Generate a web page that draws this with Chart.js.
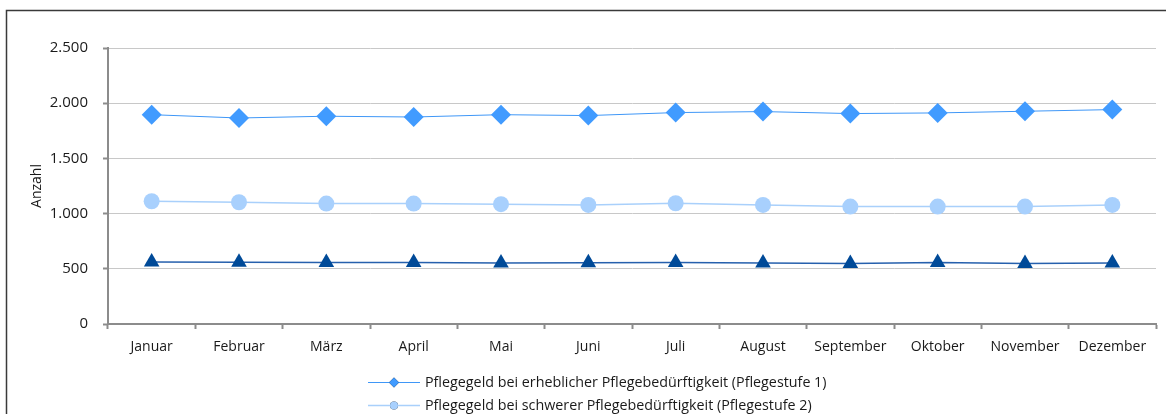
<!DOCTYPE html>
<html>
<head>
<meta charset="utf-8">
<script src="https://cdn.jsdelivr.net/npm/chart.js@4/dist/chart.umd.min.js"></script>
<style>
html,body{margin:0;padding:0;background:#fff;overflow:hidden;}
#wrap{position:relative;width:1166px;height:414px;}
</style>
</head>
<body>
<div id="wrap"><canvas id="c" width="1166" height="414"></canvas></div>
<script>
const months = ["Januar","Februar","März","April","Mai","Juni","Juli","August","September","Oktober","November","Dezember"];
const stufe1 = [1896,1866,1882,1875,1896,1888,1915,1924,1906,1912,1927,1942];
const stufe2 = [1112,1103,1091,1091,1085,1079,1094,1079,1064,1064,1064,1079];
const stufe3 = [562,560,558,558,552,554,558,552,548,558,548,552];
const yTicks = [0,500,1000,1500,2000,2500];
const seriesNames = [
  "Pflegegeld bei erheblicher Pflegebedürftigkeit (Pflegestufe 1)",
  "Pflegegeld bei schwerer Pflegebedürftigkeit (Pflegestufe 2)",
  "Pflegegeld bei schwerster Pflegebedürftigkeit (Pflegestufe 3)"
];
const yTitle = "Anzahl";

const FONT = "'Open Sans', 'Noto Sans', sans-serif";

const framePlugin = {
  id: 'frame',
  beforeDraw(chart) {
    const ctx = chart.ctx;
    ctx.save();
    ctx.strokeStyle = '#3a3a3a';
    ctx.lineWidth = 1.5;
    ctx.beginPath();
    ctx.moveTo(6.5, 420);
    ctx.lineTo(6.5, 10.5);
    ctx.lineTo(1166, 10.5);
    ctx.stroke();
    ctx.restore();
  }
};

const legendPlugin = {
  id: 'customLegend',
  afterDraw(chart) {
    const ctx = chart.ctx;
    ctx.save();
    const x0 = 368, x1 = 420, tx = 425;
    chart.data.datasets.forEach((ds, i) => {
      const y = 382 + i * 23;
      ctx.strokeStyle = ds.borderColor;
      ctx.lineWidth = ds.borderWidth;
      ctx.beginPath();
      ctx.moveTo(x0, y + 0.5);
      ctx.lineTo(x1, y + 0.5);
      ctx.stroke();
      Chart.helpers.drawPoint(ctx, {
        pointStyle: ds.pointStyle,
        radius: ds.pointRadius * 0.5,
        rotation: 0,
        borderWidth: 0
      }, (x0 + x1) / 2, y + 0.5);
      ctx.fillStyle = ds.pointBackgroundColor;
      ctx.fill();
      ctx.fillStyle = '#1a1a1a';
      ctx.font = "14.3px " + FONT;
      ctx.textBaseline = 'middle';
      ctx.textAlign = 'left';
      ctx.fillText(ds.label, tx, y + 1);
    });
    ctx.restore();
  }
};

new Chart(document.getElementById('c'), {
  type: 'line',
  data: {
    labels: months,
    datasets: [
      {
        label: seriesNames[0], data: stufe1,
        borderColor: '#3f97f7', borderWidth: 1,
        pointStyle: 'rectRot', pointRadius: 10, pointHoverRadius: 10,
        pointBackgroundColor: '#419bff', pointBorderWidth: 0
      },
      {
        label: seriesNames[1], data: stufe2,
        borderColor: '#a9d0fb', borderWidth: 1.5,
        pointStyle: 'circle', pointRadius: 8, pointHoverRadius: 8,
        pointBackgroundColor: '#a8d0fd', pointBorderWidth: 0
      },
      {
        label: seriesNames[2], data: stufe3,
        borderColor: '#2660ad', borderWidth: 1.5,
        pointStyle: 'triangle', pointRadius: 9, pointHoverRadius: 9,
        pointBackgroundColor: '#004a98', pointBorderWidth: 0
      }
    ]
  },
  options: {
    responsive: false,
    animation: false,
    events: [],
    layout: { padding: { left: 0, right: 10, top: 48, bottom: 50 } },
    plugins: { legend: { display: false }, tooltip: { enabled: false } },
    scales: {
      x: {
        offset: true,
        grid: {
          offset: true, drawOnChartArea: false, drawTicks: true,
          tickLength: 5, tickColor: '#8c8c8c', tickWidth: 2
        },
        border: { color: '#8c8c8c', width: 2 },
        ticks: { color: '#1a1a1a', font: { family: FONT, size: 14 }, padding: 10, maxRotation: 0, autoSkip: false },
        afterFit(scale) { scale.height = 40; }
      },
      y: {
        min: 0, max: 2500,
        afterBuildTicks(scale) { scale.ticks = yTicks.map(v => ({ value: v })); },
        grid: {
          color: '#c8c8c8', lineWidth: 1, borderDash: [2, 2],
          drawTicks: true, tickLength: 5, tickColor: '#8c8c8c', tickWidth: 2, tickBorderDash: []
        },
        border: { color: '#8c8c8c', width: 2 },
        ticks: {
          color: '#1a1a1a', font: { family: FONT, size: 15 }, padding: 15,
          callback: v => v.toLocaleString('de-DE')
        },
        title: {
          display: true, text: yTitle, color: '#1a1a1a',
          font: { family: FONT, size: 14 }, padding: { top: 29, bottom: 0 }
        },
        afterFit(scale) { scale.width = 108; }
      }
    }
  },
  plugins: [framePlugin, legendPlugin]
});
</script>
</body>
</html>
